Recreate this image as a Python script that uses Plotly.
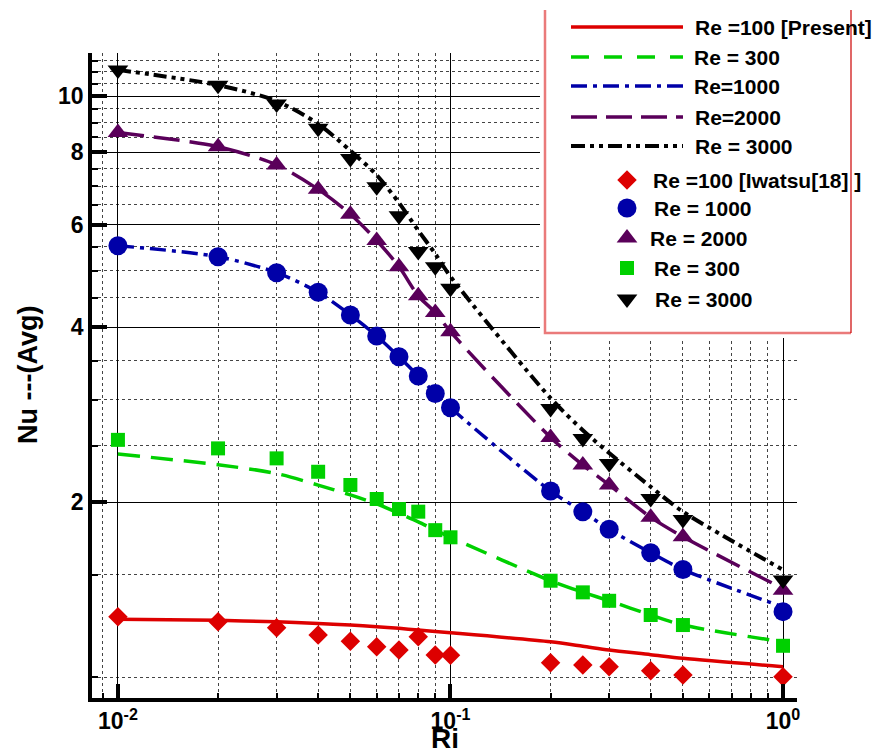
import plotly.graph_objects as go

# ---------------- data ----------------
ri = [0.01, 0.02, 0.03, 0.04, 0.05, 0.06, 0.07, 0.08, 0.09, 0.1,
      0.2, 0.25, 0.3, 0.4, 0.5, 1.0]

# present computations (curves)
nu_re100_present = [1.257, 1.252, 1.245, 1.237, 1.229, 1.221, 1.213, 1.205, 1.198, 1.192,
                    1.150, 1.130, 1.113, 1.093, 1.077, 1.042]
nu_re300_present = [2.42, 2.32, 2.24, 2.14, 2.058, 1.986, 1.913, 1.85, 1.79, 1.74,
                    1.465, 1.40, 1.353, 1.279, 1.229, 1.15]
nu_re1000_present = [5.525, 5.29, 4.965, 4.594, 4.20, 3.864, 3.558, 3.297, 3.077, 2.908,
                     2.09, 1.926, 1.796, 1.637, 1.532, 1.32]
nu_re2000_present = [8.65, 8.18, 7.61, 6.91, 6.26, 5.64, 5.085, 4.53, 4.24, 3.93,
                     2.585, 2.317, 2.141, 1.884, 1.744, 1.42]
nu_re3000_present = [11.09, 10.44, 9.80, 8.95, 8.05, 7.31, 6.55, 5.87, 5.35, 4.89,
                     3.02, 2.66, 2.43, 2.126, 1.926, 1.53]

# Iwatsu [18] reference data (symbols)
nu_re100_iwatsu = [1.27, 1.245, 1.216, 1.181, 1.153, 1.128, 1.113, 1.173, 1.091, 1.09,
                   1.058, 1.049, 1.042, 1.025, 1.008, 1.001]
nu_re300_iwatsu = [2.56, 2.475, 2.379, 2.256, 2.141, 2.025, 1.946, 1.926, 1.79, 1.74,
                   1.465, 1.399, 1.353, 1.279, 1.229, 1.132]
nu_re1000_iwatsu = [5.525, 5.29, 4.965, 4.594, 4.20, 3.864, 3.558, 3.297, 3.077, 2.908,
                    2.09, 1.926, 1.796, 1.637, 1.532, 1.296]
nu_re2000_iwatsu = [8.65, 8.18, 7.61, 6.91, 6.26, 5.64, 5.085, 4.53, 4.24, 3.93,
                    2.585, 2.317, 2.141, 1.884, 1.744, 1.411]
nu_re3000_iwatsu = [11.09, 10.44, 9.69, 8.80, 7.81, 6.98, 6.22, 5.40, 5.085, 4.667,
                    2.90, 2.575, 2.332, 2.03, 1.868, 1.469]

x_major = [0.01, 0.1, 1.0]
x_major_text = ["10<sup>-2</sup>", "10<sup>-1</sup>", "10<sup>0</sup>"]
x_minor = [0.009, 0.02, 0.03, 0.04, 0.05, 0.06, 0.07, 0.08, 0.09,
           0.2, 0.3, 0.4, 0.5, 0.6, 0.7, 0.8, 0.9]
y_major = [2, 4, 6, 8, 10]
y_major_text = ["2", "4", "6", "8", "10"]
y_minor = [1.0, 1.5, 2.5, 3.0, 3.5, 4.5, 5.0, 5.5, 6.5, 7.0, 7.5,
           8.5, 9.0, 9.5, 10.5, 11.0, 11.5]

line_labels = ["Re =100 [Present]", "Re = 300", "Re=1000", "Re=2000", "Re = 3000"]
marker_labels = ["Re =100 [Iwatsu[18] ]", "Re = 1000", "Re = 2000", "Re = 300", "Re = 3000"]

# ---------------- styles ----------------
FONT = "Liberation Sans, Arial, sans-serif"
RED, GREEN, BLUE, PURPLE, BLACK = "#dd0000", "#00d000", "#0000a8", "#5a005a", "#000000"

curves = [
    (nu_re100_present, RED, "solid", "solid", 3.5),
    (nu_re300_present, GREEN, "22px,11px", "18px,15px", 3.5),
    (nu_re1000_present, BLUE, "16px,6px,4px,6px", "16px,6px,4px,6px", 3.5),
    (nu_re2000_present, PURPLE, "26px,10px", "26px,9px", 3.5),
    (nu_re3000_present, BLACK, "13px,5px,4px,5px,4px,5px", "14px,5px,4px,5px,4px,5px", 4),
]
symbols = [
    (nu_re100_iwatsu, RED, "diamond", 15),
    (nu_re1000_iwatsu, BLUE, "circle", 19),
    (nu_re2000_iwatsu, PURPLE, "triangle-up", 18),
    (nu_re300_iwatsu, GREEN, "square", 14),
    (nu_re3000_iwatsu, BLACK, "triangle-down", 18),
]

fig = go.Figure()

for ys, color, dash, _, lw in curves:
    fig.add_trace(go.Scatter(
        x=ri, y=ys, mode="lines", line=dict(color=color, width=lw, dash=dash,
                                            shape="spline", smoothing=0.8),
        showlegend=False, hoverinfo="skip", xaxis="x", yaxis="y"))

for ys, color, sym, size in symbols:
    fig.add_trace(go.Scatter(
        x=ri, y=ys, mode="markers",
        marker=dict(symbol=sym, size=size, color=color, line=dict(width=0)),
        showlegend=False, hoverinfo="skip", xaxis="x", yaxis="y", cliponaxis=False))

# ---------------- legend panel (own axes in pixel units) ----------------
LX0, LX1, LY0, LY1 = 540, 852, 10, 338     # panel axis extent
BX0, BX1, BY1 = 545, 851, 333             # box edges
fig.add_trace(go.Scatter(
    x=[BX0, BX1, BX1, BX0, BX0], y=[LY0, LY0, BY1, BY1, LY0], fill="toself",
    fillcolor="white", mode="lines", line=dict(width=0),
    showlegend=False, hoverinfo="skip", xaxis="x2", yaxis="y2"))
fig.add_trace(go.Scatter(
    x=[BX0, BX0, BX1], y=[LY0, BY1, BY1], mode="lines",
    line=dict(color="#ea7a7a", width=2.5),
    showlegend=False, hoverinfo="skip", xaxis="x2", yaxis="y2"))
fig.add_trace(go.Scatter(
    x=[BX1, BX1], y=[LY0, BY1], mode="lines",
    line=dict(color="#cc0000", width=1.2),
    showlegend=False, hoverinfo="skip", xaxis="x2", yaxis="y2"))

line_rows = [27, 57, 86, 117, 146]
line_text_x = [693, 692, 692, 693, 693]
for (ys, color, _, ldash, lw), row, tx, label in zip(curves, line_rows, line_text_x, line_labels):
    fig.add_trace(go.Scatter(
        x=[571, 683], y=[row, row], mode="lines",
        line=dict(color=color, width=lw, dash=ldash),
        showlegend=False, hoverinfo="skip", xaxis="x2", yaxis="y2"))
    fig.add_annotation(x=tx, y=row, xref="x2", yref="y2", text="<b>%s</b>" % label,
                       showarrow=False, xanchor="left", yanchor="middle",
                       font=dict(family=FONT, size=21, color="black"))

marker_rows = [180, 208, 238, 268, 299]
marker_text_x = [651, 652, 648, 652, 653]
for (ys, color, sym, size), row, tx, label in zip(symbols, marker_rows, marker_text_x, marker_labels):
    fig.add_trace(go.Scatter(
        x=[627], y=[row], mode="markers",
        marker=dict(symbol=sym, size=size, color=color, line=dict(width=0)),
        showlegend=False, hoverinfo="skip", xaxis="x2", yaxis="y2"))
    fig.add_annotation(x=tx, y=row, xref="x2", yref="y2", text="<b>%s</b>" % label,
                       showarrow=False, xanchor="left", yanchor="middle",
                       font=dict(family=FONT, size=21, color="black"))

# ---------------- axis titles ----------------
fig.add_annotation(x=(445 - 92) / 760, y=(698 - 756) / 688, xref="paper", yref="paper",
                   text="<b>Ri</b>", showarrow=False, xanchor="center", yanchor="bottom",
                   font=dict(family=FONT, size=28, color="black"))
fig.add_annotation(x=(28 - 92) / 760, y=(698 - 375) / 688, xref="paper", yref="paper",
                   text="<b>Nu ---(Avg)</b>", showarrow=False, textangle=-90,
                   xanchor="center", yanchor="middle",
                   font=dict(family=FONT, size=27, color="black"))

tickfont = dict(family=FONT, size=23, color="black", weight="bold")

fig.update_layout(
    width=877, height=756,
    margin=dict(l=92, r=25, t=10, b=58),
    paper_bgcolor="white", plot_bgcolor="white",
    showlegend=False,
    xaxis=dict(
        type="log", range=[-2.078, 0.042], domain=[0, (797 - 92) / 760],
        showline=True, linecolor="black", linewidth=3.5,
        ticks="inside", ticklen=14, tickwidth=3.5, tickcolor="black",
        tickmode="array", tickvals=x_major, ticktext=x_major_text, tickfont=tickfont,
        showgrid=True, gridcolor="black", gridwidth=1,
        minor=dict(tickmode="array", tickvals=x_minor, ticks="inside", ticklen=5,
                   tickwidth=1.5, tickcolor="black", showgrid=True,
                   gridcolor="#444444", gridwidth=1, griddash="dot"),
        zeroline=False, anchor="y",
    ),
    yaxis=dict(
        type="log", range=[-0.036, 1.074], domain=[0, (698 - 53) / 688],
        showline=True, linecolor="black", linewidth=3.5,
        ticks="inside", ticklen=15, tickwidth=3.5, tickcolor="black",
        tickmode="array", tickvals=y_major, ticktext=y_major_text, tickfont=tickfont,
        showgrid=True, gridcolor="black", gridwidth=1,
        minor=dict(tickmode="array", tickvals=y_minor, ticks="inside", ticklen=6,
                   tickwidth=1.5, tickcolor="black", showgrid=True,
                   gridcolor="#444444", gridwidth=1, griddash="dot"),
        zeroline=False, anchor="x",
    ),
    xaxis2=dict(domain=[(LX0 - 92) / 760, 1], range=[LX0, LX1], visible=False,
                showgrid=False, zeroline=False, anchor="y2", fixedrange=True),
    yaxis2=dict(domain=[(698 - LY1) / 688, 1], range=[LY1, LY0], visible=False,
                showgrid=False, zeroline=False, anchor="x2", fixedrange=True),
)

fig.write_html("out.html")
